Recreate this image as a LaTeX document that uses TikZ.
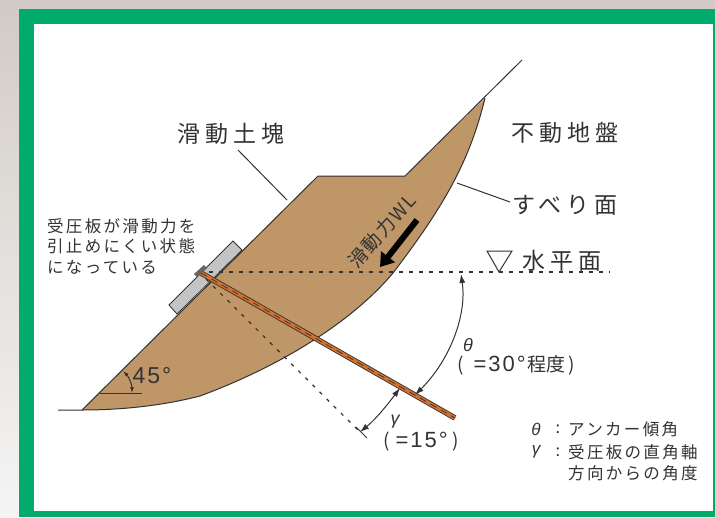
\documentclass[tikz,border=0pt]{standalone}
\usepackage{fontspec}
\setmainfont{Noto Sans CJK JP}
\newfontfamily\latinf{Liberation Sans}
\newfontfamily\latinw[LetterSpace=9]{Liberation Sans}
\newfontfamily\cjkl[LetterSpace=21]{Noto Sans CJK JP}
\newfontfamily\cjkm[LetterSpace=14]{Noto Sans CJK JP}
\newfontfamily\cjks[LetterSpace=8]{Noto Sans CJK JP}
\usetikzlibrary{arrows.meta,shadings}
\definecolor{frameg}{HTML}{00AB6C}
\definecolor{soil}{HTML}{BE9668}
\definecolor{ink}{HTML}{333333}
\definecolor{anch}{HTML}{D2702E}
\definecolor{plategray}{HTML}{C4C4C4}
\tikzset{
  ln/.style={draw=ink,line width=1pt},
  dots/.style={draw=ink,line width=1.2pt,dash pattern=on 3.5pt off 6.5pt},
  lab/.style={text=ink,inner sep=0pt,font=\cjkl\fontsize{23}{23}\selectfont},
  note/.style={text=ink,inner sep=0pt,font=\cjkm\fontsize{16.5}{20.5}\selectfont,align=left},
  num/.style={text=ink,inner sep=0pt,font=\latinw\fontsize{23}{23}\selectfont},
  greek/.style={text=ink,inner sep=0pt,font=\latinf\itshape\fontsize{18}{18}\selectfont},
  tip/.style={-{Latex[length=9pt,width=6pt]}},
  tips/.style={{Latex[length=9pt,width=6pt]}-{Latex[length=9pt,width=6pt]}},
}
\begin{document}
\begin{tikzpicture}[x=1pt,y=-1pt]
\useasboundingbox (0,0) rectangle (715,517);
\shade[top color=black!17!white!90!brown,bottom color=white!96!black] (0,0) rectangle (715,517);
\fill[frameg] (19,9) rectangle (715,517);
\fill[white] (34,24) rectangle (713,511);
% soil body
\coordinate (toe) at (82,410);
\coordinate (crest) at (318,176);
\coordinate (bench) at (405,176);
\coordinate (top) at (485,98);
\coordinate (far) at (522,60);
\coordinate (gnd) at (58,410);
\def\slip{(485,98) .. controls (470,160) and (445,205) .. (393,273) .. controls (345,330) and (265,372) .. (200,396) .. controls (165,405) and (125,410) .. (82,410)}
\fill[soil] (toe) -- (crest) -- (bench) -- (485,98) .. controls (470,160) and (445,205) .. (393,273) .. controls (345,330) and (265,372) .. (200,396) .. controls (165,405) and (125,410) .. (82,410) -- cycle;
\draw[ln] (gnd) -- (toe) -- (crest) -- (bench) -- (far);
\draw[ln] \slip;
% plate
\fill[plategray,draw=ink,line width=.8pt] (233,241) -- (242,250) -- (177,314) -- (169,305) -- cycle;
% reference lines
\coordinate (head) at (199,272);
\coordinate (hr) at (610,272);
\coordinate (dr) at (360,432);
\coordinate (tick1) at (356,427);
\coordinate (tick2) at (367,438);
\draw[dots] (head) -- (hr);
\draw[dots] (head) -- (dr);
\draw[ln,line width=.8pt] (tick1) -- (tick2);
% anchor
\coordinate (astart) at (201,273);
\coordinate (aend) at (455,418);
\draw[draw=ink,line width=5.5pt] (astart) -- (aend);
\draw[draw=anch,line width=3.8pt] (astart) -- (aend);
\draw[ink!80!black,line width=.6pt,dash pattern=on 7pt off 5pt] (astart) -- (aend);
\fill[ink!75!white] (194,274) -- (204,265) -- (207,268) -- (197,277) -- cycle;
% angle arcs
\draw[ln,tips] (461,274) .. controls (467,315) and (450,360) .. (415,395);
\draw[ln,tips] (400,388) .. controls (388,404) and (376,419) .. (360,432);
% 45
\coordinate (h1) at (100,393);
\coordinate (h2) at (142,393);
\draw[ln] (h1) -- (h2);
\draw[ln,{Latex[length=6pt,width=4pt]}-{Latex[length=6pt,width=4pt]}] (123,371) .. controls (129,377) and (132,385) .. (132,393);
\node[num] (n45) at (152,376) {45°};
% force arrow
\coordinate (fa) at (417,220);
\coordinate (fb) at (380,267);
\draw[line width=6pt,-{Triangle[length=13pt,width=17pt]}] (fa) -- (fb);
\node[text=ink,inner sep=0pt,rotate=48,font=\cjks\fontsize{19}{19}\selectfont] (wl) at (382,231) {滑動力WL};
% labels
\node[lab] (slide) at (231,134) {滑動土塊};
\coordinate (l0) at (238,150);
\coordinate (l1) at (287,200);
\draw[ln] (l0) -- (l1);
\node[lab] (fixed) at (565,133) {不動地盤};
\node[lab] (surf) at (565,205) {すべり面};
\coordinate (l2) at (457,183);
\coordinate (l3) at (510,202);
\draw[ln] (l2) -- (l3);
\coordinate (v1) at (487,251);
\coordinate (v2) at (512,251);
\coordinate (v3) at (499,272);
\draw[ln] (v1) -- (v2) -- (v3) -- cycle;
\node[lab] (water) at (562,261) {水平面};
\node[note,anchor=north west] (plnote) at (47,218) {受圧板が滑動力を\\引止めにくい状態\\になっている};
\node[greek] (th) at (468,345) {θ};
\node[text=ink,inner sep=0pt,anchor=west,font=\fontsize{19}{19}\selectfont] (thv) at (457,365) {(\hspace{10pt}{\latinw\fontsize{22}{22}\selectfont =30°}\hspace{2pt}程度\hspace{3pt})};
\node[greek] (ga) at (395,422) {γ};
\node[text=ink,inner sep=0pt,anchor=west,font=\fontsize{19}{19}\selectfont] (gav) at (383,442) {(\hspace{6pt}{\latinw\fontsize{22}{22}\selectfont =15°}\hspace{5pt})};
\node[greek,font=\latinf\itshape\fontsize{17}{17}\selectfont] (leg1g) at (536,429) {θ};
\node[greek,font=\latinf\itshape\fontsize{17}{17}\selectfont] (leg2g) at (536,452) {γ};
\node[note,anchor=center] (c1) at (558,429) {:};
\node[note,anchor=center] (c2) at (558,452) {:};
\node[note,anchor=west] (leg1) at (568,429) {アンカー傾角};
\node[note,anchor=west] (leg2) at (568,452) {受圧板の直角軸};
\node[note,anchor=west] (leg3) at (568,473) {方向からの角度};
\end{tikzpicture}
\end{document}
